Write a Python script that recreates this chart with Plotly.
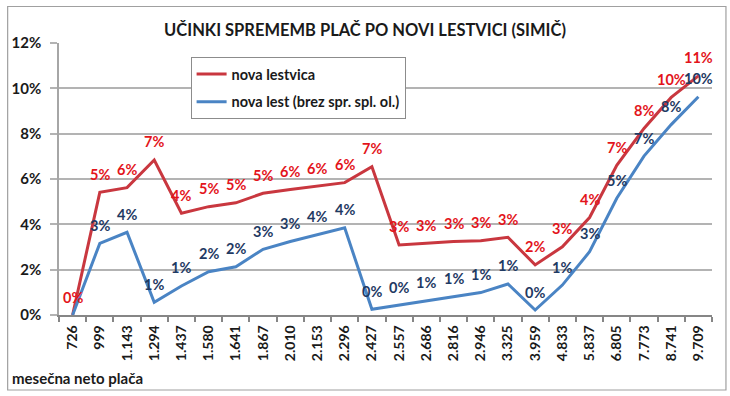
import plotly.graph_objects as go

categories = ["726", "999", "1.143", "1.294", "1.437", "1.580", "1.641", "1.867",
              "2.010", "2.153", "2.296", "2.427", "2.557", "2.686", "2.816", "2.946",
              "3.325", "3.959", "4.833", "5.837", "6.805", "7.773", "8.741", "9.709"]

nova_lestvica = [0.0, 5.41, 5.62, 6.84, 4.49, 4.78, 4.95, 5.37, 5.54, 5.69, 5.84, 6.54,
                 3.09, 3.16, 3.24, 3.28, 3.43, 2.21, 3.01, 4.30, 6.60, 8.23, 9.60, 10.55]

nova_lest_brez = [0.0, 3.16, 3.65, 0.56, 1.28, 1.91, 2.13, 2.90, 3.24, 3.56, 3.85, 0.25,
                  0.44, 0.63, 0.81, 0.99, 1.37, 0.22, 1.32, 2.79, 5.15, 7.01, 8.40, 9.63]

series_names = ["nova lestvica", "nova lest (brez spr. spl. ol.)"]
blue_label_hidden = ["726"]

title_text = "UČINKI SPREMEMB PLAČ PO NOVI LESTVICI (SIMIČ)"
x_title = "mesečna neto plača"

RED_LINE = "#c9373f"
BLUE_LINE = "#4a84c4"
RED_TXT = "#e3141b"
BLUE_TXT = "#1f3a63"
FONT = "Lato"

fig = go.Figure()
fig.add_trace(go.Scatter(x=categories, y=nova_lestvica, mode="lines",
                         name="<b>" + series_names[0] + "</b>", legendgroup="a",
                         line=dict(color=RED_LINE, width=3)))
fig.add_trace(go.Scatter(x=categories, y=nova_lest_brez, mode="lines",
                         name="<b>" + series_names[1] + "</b>", legendgroup="b",
                         line=dict(color=BLUE_LINE, width=3)))

annotations = []
for i, (c, v) in enumerate(zip(categories, nova_lest_brez)):
    if c in blue_label_hidden:
        continue
    annotations.append(dict(x=i, y=v, xref="x", yref="y", text="<b>%d%%</b>" % int(v + 0.5),
                            showarrow=False, yshift=18,
                            font=dict(family=FONT, size=14.5, color=BLUE_TXT)))
for i, (c, v) in enumerate(zip(categories, nova_lestvica)):
    annotations.append(dict(x=i, y=v, xref="x", yref="y", text="<b>%d%%</b>" % int(v + 0.5),
                            showarrow=False, yshift=18,
                            font=dict(family=FONT, size=14.5, color=RED_TXT)))

L, R, T, B = 57, 712, 43, 315
W, H = R - L, B - T
def px_x(p):
    return (p - L) / W
def px_y(p):
    return (B - p) / H

annotations.append(dict(x=px_x(8), y=px_y(378), xref="paper", yref="paper",
                        text="<b>" + x_title + "</b>", showarrow=False,
                        xanchor="left", yanchor="middle",
                        font=dict(family=FONT, size=15, color="#1a1a1a")))

shapes = [dict(type="rect", xref="paper", yref="paper",
               x0=px_x(5.5), x1=px_x(726), y0=px_y(390), y1=px_y(6.5),
               line=dict(color="#a0a0a0", width=1.2), layer="below")]

fig.update_layout(
    width=730, height=396,
    margin=dict(l=L, r=730 - R, t=T, b=396 - B),
    paper_bgcolor="white", plot_bgcolor="white",
    font=dict(family=FONT, color="#1a1a1a"),
    title=dict(text="<b>" + title_text + "</b>", x=0.5, xref="container", xanchor="center",
               y=1 - 30 / 396, yref="container", yanchor="middle",
               font=dict(family=FONT, size=16.5, color="#1a1a1a")),
    showlegend=True,
    legend=dict(x=px_x(189), y=px_y(57), xanchor="left", yanchor="top",
                bgcolor="white", bordercolor="#8c8c8c", borderwidth=1,
                font=dict(family=FONT, size=14.5, color="#1a1a1a"),
                itemwidth=30, tracegroupgap=6),
    annotations=annotations,
    shapes=shapes,
)

fig.update_xaxes(type="category", categoryorder="array", categoryarray=categories,
                 range=[-0.5, len(categories) - 0.5], autorange=False,
                 tickangle=-90, tickfont=dict(family=FONT, size=14, color="#1a1a1a"),
                 tickprefix="<b>", ticksuffix="</b>", ticklabelstandoff=3,
                 showgrid=False, showline=True, linecolor="#868686", linewidth=1.5,
                 ticks="outside", tickson="boundaries", ticklen=5, tickcolor="#868686",
                 tickwidth=1.5, zeroline=False)
fig.update_yaxes(range=[0, 12], autorange=False, tickvals=[0, 2, 4, 6, 8, 10, 12],
                 ticktext=["<b>%d%%</b>" % v for v in [0, 2, 4, 6, 8, 10, 12]],
                 tickfont=dict(family=FONT, size=15, color="#1a1a1a"),
                 ticklabelstandoff=6,
                 showgrid=True, gridcolor="#b3b3b3", gridwidth=1.5,
                 showline=True, linecolor="#a6a6a6", linewidth=1.5,
                 ticks="outside", ticklen=7, tickcolor="#b3b3b3", tickwidth=1.5,
                 zeroline=False)

fig.write_html("out.html", config={"displayModeBar": False},
               post_script="document.body.style.margin='0px';")
